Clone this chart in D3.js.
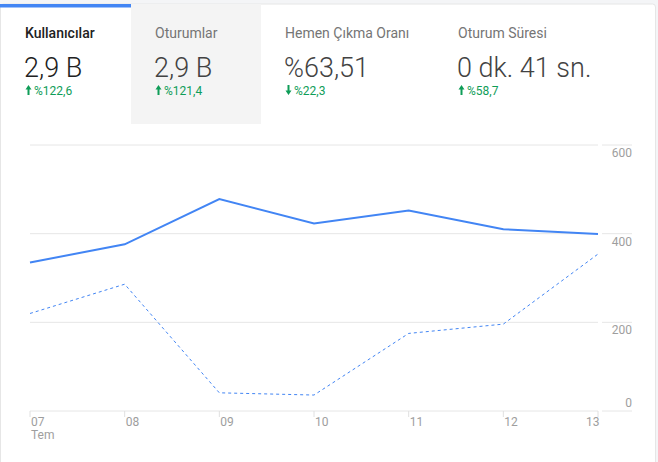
<!DOCTYPE html>
<html>
<head>
<meta charset="utf-8">
<script src="https://cdn.jsdelivr.net/npm/d3@7"></script>
<style>
  body { margin: 0; background: #fff; font-family: Roboto, "Noto Sans", sans-serif; }
  svg { display: block; }
</style>
</head>
<body>
<svg id="chart" width="658" height="462"></svg>
<script>
// Veriler
const tabTitles = ["Kullanıcılar", "Oturumlar", "Hemen Çıkma Oranı", "Oturum Süresi"]
const tabValues = ["2,9 B", "2,9 B", "%63,51", "0 dk. 41 sn."]
const tabChanges = ["%122,6", "%121,4", "%22,3", "%58,7"]
const tabUp = [true, true, false, true]

const days = ["07", "08", "09", "10", "11", "12", "13"]
const currentWeek = [335, 376, 478, 423, 452, 410, 399]
const previousWeek = [220, 286, 41, 36, 175, 196, 354]
const yTicks = [0, 200, 400, 600]

const svg = d3.select("#chart")

// Fond + onglets
svg.append("rect")
    .attr("x", 0).attr("y", 0)
    .attr("width", 658).attr("height", 462)
    .attr("fill", "#f4f5f7")
svg.append("rect")
    .attr("x", 0.5).attr("y", 4)
    .attr("width", 655).attr("height", 470)
    .attr("rx", 3)
    .attr("fill", "#fff")
    .attr("stroke", "#e6e6e6")

const textX = [25, 155, 285, 458]

// onglet gris (Oturumlar)
svg.append("rect")
    .attr("x", 131).attr("y", 4)
    .attr("width", 130).attr("height", 120)
    .attr("fill", "#f4f4f4")

// barre bleue sur l'onglet actif
svg.append("rect")
    .attr("x", 0).attr("y", 4)
    .attr("width", 131).attr("height", 3.5)
    .attr("fill", "#4285f4")

const tabs = svg.append("g").attr("id", "tabs")
tabTitles.forEach((t, i) => {
    tabs.append("text")
        .attr("x", textX[i]).attr("y", 38)
        .attr("font-size", 14)
        .attr("font-weight", i == 0 ? 500 : 400)
        .attr("fill", i == 0 ? "#212121" : "#757575")
        .text(t)
    tabs.append("text")
        .attr("x", textX[i] - 1).attr("y", 77)
        .attr("font-size", 27)
        .attr("font-weight", 300)
        .attr("fill", i == 0 ? "#212121" : "#424242")
        .text(tabValues[i])

    // petite flèche
    const cx = textX[i] + 3.5
    const arrow = tabUp[i]
        ? `M ${cx - 3} 89.5 L ${cx} 85 L ${cx + 3} 89.5 Z M ${cx - 1} 89 H ${cx + 1} V 95 H ${cx - 1} Z`
        : `M ${cx - 3} 90.5 L ${cx} 95 L ${cx + 3} 90.5 Z M ${cx - 1} 91 H ${cx + 1} V 85 H ${cx - 1} Z`
    tabs.append("path")
        .attr("d", arrow)
        .attr("fill", "#0f9d58")
    tabs.append("text")
        .attr("x", textX[i] + 9).attr("y", 95)
        .attr("font-size", 12)
        .attr("fill", "#0f9d58")
        .text(tabChanges[i])
})

// Graphique
const x = d3.scalePoint()
    .domain(days)
    .range([30, 598])

const y = d3.scaleLinear()
    .domain([0, 600])
    .range([411, 145])

const grid = svg.append("g").attr("id", "grid")
yTicks.forEach(v => {
    grid.append("line")
        .attr("x1", 30).attr("x2", 598)
        .attr("y1", y(v)).attr("y2", y(v))
        .attr("stroke", "#e6e6e6")
        .attr("stroke-width", 1)
    grid.append("line")
        .attr("x1", 602).attr("x2", 632)
        .attr("y1", y(v)).attr("y2", y(v))
        .attr("stroke", "#e6e6e6")
        .attr("stroke-width", 1)
    grid.append("text")
        .attr("x", 632)
        .attr("y", v == 0 ? y(v) - 4 : y(v) + 12)
        .attr("text-anchor", "end")
        .attr("font-size", 12)
        .attr("fill", "#9e9e9e")
        .text(v)
})

// axe x
const xAxis = svg.append("g").attr("id", "xaxis")
days.forEach((d, i) => {
    xAxis.append("line")
        .attr("x1", x(d)).attr("x2", x(d))
        .attr("y1", 411).attr("y2", 417)
        .attr("stroke", "#e0e0e0")
    xAxis.append("text")
        .attr("x", i == days.length - 1 ? x(d) - 12 : x(d) + 1)
        .attr("y", 426)
        .attr("font-size", 12)
        .attr("fill", "#9e9e9e")
        .text(d)
})
xAxis.append("text")
    .attr("x", 31).attr("y", 439)
    .attr("font-size", 12)
    .attr("fill", "#9e9e9e")
    .text("Tem")

const line = d3.line()
    .x((d, i) => x(days[i]))
    .y(d => y(d))

svg.append("path")
    .datum(previousWeek)
    .attr("d", line)
    .attr("fill", "none")
    .attr("stroke", "#4285f4")
    .attr("stroke-width", 1)
    .attr("stroke-dasharray", "3,3")

svg.append("path")
    .datum(currentWeek)
    .attr("d", line)
    .attr("fill", "none")
    .attr("stroke", "#4285f4")
    .attr("stroke-width", 2)
</script>
</body>
</html>
